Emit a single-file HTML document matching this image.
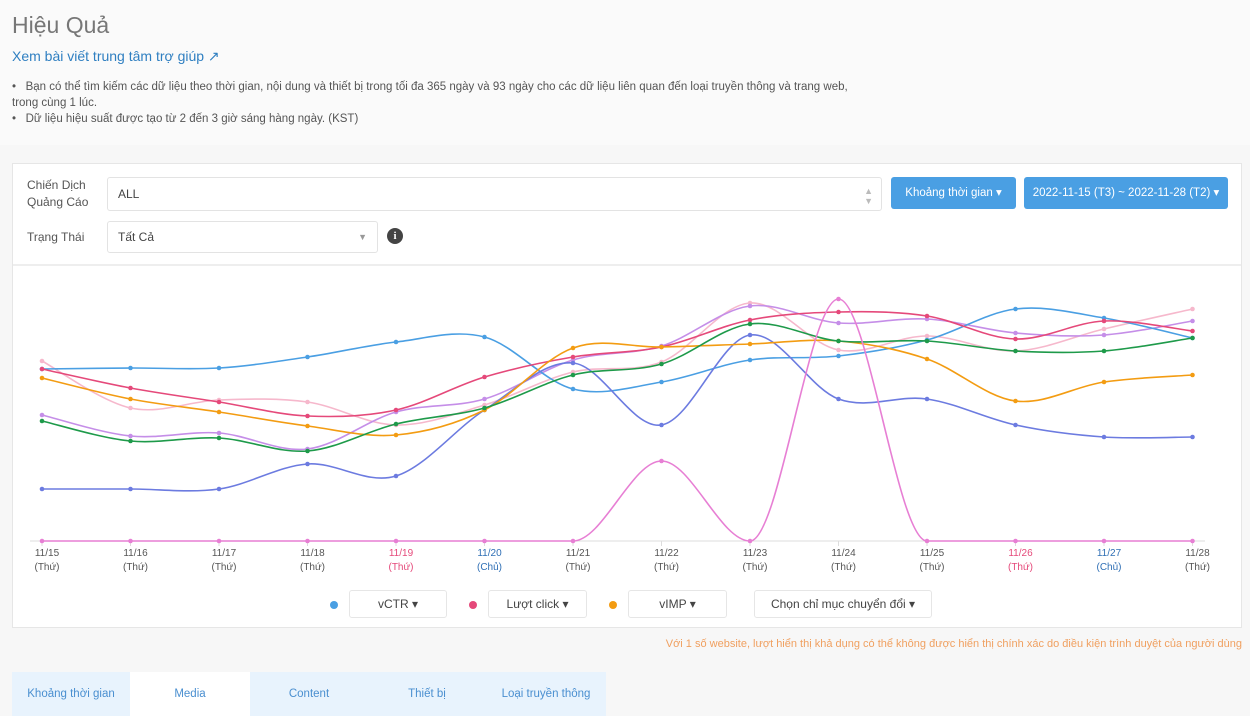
<!DOCTYPE html>
<html><head><meta charset="utf-8"><style>
*{box-sizing:border-box;margin:0;padding:0}
body{width:1250px;height:716px;overflow:hidden;background:#f7f7f7;font-family:"Liberation Sans",sans-serif;color:#555;position:relative}
.top{position:absolute;left:0;top:0;width:1250px;height:145px;background:#fafafa}
h1{position:absolute;left:12px;top:12px;font-size:23px;font-weight:normal;color:#777}
.link{position:absolute;left:12px;top:48px;font-size:14px;color:#2f7fc1}
.note{position:absolute;left:12px;top:79px;font-size:11.5px;color:#555;line-height:16px}
.card{position:absolute;left:12px;top:163px;width:1230px;height:465px;background:#fff;border:1px solid #e6e6e6}
.lbl{position:absolute;font-size:12px;color:#555;line-height:17px}
.inp{position:absolute;border:1px solid #e3e3e3;border-radius:3px;background:#fff;font-size:12px;color:#444;padding-left:10px}
.btn{position:absolute;background:#4a9fe3;color:#fff;font-size:11.5px;border-radius:3px;text-align:center;line-height:32px}
.sep{position:absolute;left:0;top:100px;width:1228px;height:2px;background:#eee}
.xl{position:absolute;top:547px;width:40px;margin-left:-20px;text-align:center;font-size:10px;line-height:14px;color:#555}
.dot{position:absolute;width:8px;height:8px;border-radius:50%;top:601px}
.lb{position:absolute;top:590px;height:28px;border:1px solid #e6e6e6;border-radius:3px;background:#fff;font-size:12px;text-align:center;line-height:26px;color:#444}
.tab{position:absolute;top:672px;height:44px;line-height:44px;text-align:center;font-size:11.5px;color:#4a8fd0;background:#e8f3fd}
</style></head><body>
<div class="top"></div>
<h1>Hiệu Quả</h1>
<div class="link">Xem bài viết trung tâm trợ giúp &#x2197;</div>
<div class="note">•&nbsp;&nbsp;&nbsp;Bạn có thể tìm kiếm các dữ liệu theo thời gian, nội dung và thiết bị trong tối đa 365 ngày và 93 ngày cho các dữ liệu liên quan đến loại truyền thông và trang web,<br>trong cùng 1 lúc.<br>•&nbsp;&nbsp;&nbsp;Dữ liệu hiệu suất được tạo từ 2 đến 3 giờ sáng hàng ngày. (KST)</div>
<div class="card">
<div class="lbl" style="left:14px;top:13px">Chiến Dịch<br>Quảng Cáo</div>
<div class="inp" style="left:94px;top:13px;width:775px;height:34px;line-height:32px">ALL<span style="position:absolute;right:8px;color:#bbb;font-size:9px;line-height:10px;top:8px">▲<br>▼</span></div>
<div class="lbl" style="left:14px;top:65px">Trạng Thái</div>
<div class="inp" style="left:94px;top:57px;width:271px;height:32px;line-height:30px">Tất Cả<span style="position:absolute;right:10px;color:#999;font-size:9px">▼</span></div>
<div style="position:absolute;left:374px;top:64px;width:16px;height:16px;border-radius:50%;background:#444;color:#fff;font-size:11px;font-weight:bold;text-align:center;line-height:16px;font-family:'Liberation Serif',serif">i</div>
<div class="btn" style="left:878px;top:13px;width:125px">Khoảng thời gian ▾</div>
<div class="btn" style="left:1011px;top:13px;width:204px">2022-11-15 (T3) ~ 2022-11-28 (T2) ▾</div>
<div class="sep"></div>
</div>
<svg id="ch" width="1250" height="716" style="position:absolute;left:0;top:0"></svg>
<div id="xl"></div>
<div class="dot" style="left:330px;background:#4a9fe3"></div>
<div class="lb" style="left:349px;width:98px">vCTR ▾</div>
<div class="dot" style="left:469px;background:#e5497a"></div>
<div class="lb" style="left:488px;width:99px">Lượt click ▾</div>
<div class="dot" style="left:609px;background:#f39c12"></div>
<div class="lb" style="left:628px;width:99px">vIMP ▾</div>
<div class="lb" style="left:754px;width:178px">Chọn chỉ mục chuyển đổi ▾</div>
<div style="position:absolute;right:8px;top:638px;font-size:11px;color:#f0a060">Với 1 số website, lượt hiển thị khả dụng có thể không được hiển thị chính xác do điều kiện trình duyệt của người dùng</div>
<div class="tab" style="left:12px;width:118px">Khoảng thời gian</div>
<div class="tab" style="left:130px;width:120px;background:#fff">Media</div>
<div class="tab" style="left:250px;width:118px">Content</div>
<div class="tab" style="left:368px;width:118px">Thiết bị</div>
<div class="tab" style="left:486px;width:120px">Loại truyền thông</div>
<script>
var X=[],i;for(i=0;i<14;i++)X.push(42+88.5*i);
var S=[
["#f6b8cc",[361,408,400,402,425,405,372,362,303,350,336,351,329,309]],
["#c58ee8",[415,436,433,449,412,399,360,346,306,323,319,333,335,321]],
["#4a9fe3",[369,368,368,357,342,337,389,382,360,356,340,309,318,338]],
["#6c7be0",[489,489,489,464,476,410,363,425,335,399,399,425,437,437]],
["#e5497a",[369,388,402,416,410,377,357,347,320,312,316,339,321,331]],
["#f39c12",[378,399,412,426,435,410,348,347,344,341,359,401,382,375]],
["#1e9a4a",[421,441,438,451,424,408,375,364,324,341,341,351,351,338]],
["#e77fd4",[541,541,541,541,541,541,541,461,541,299,541,541,541,541],1]];
var h='<line x1="30" y1="541" x2="1205" y2="541" stroke="#ddd"/>';
for(i=0;i<14;i++)h+='<line x1="'+X[i]+'" y1="541" x2="'+X[i]+'" y2="546" stroke="#ddd"/>';
S.forEach(function(s){var Y=s[1],d='M'+X[0]+','+Y[0],n=14,m=[];
if(s[2]){for(var k=0;k<n;k++){if(k==0||k==n-1){m.push(0);continue;}var a=Y[k]-Y[k-1],b=Y[k+1]-Y[k];m.push(a*b<=0?0:(a+b)/2/88.5);}}
for(var k=0;k<13;k++){var c1x,c1y,c2x,c2y;
if(s[2]){c1x=X[k]+29.5;c1y=Y[k]+m[k]*29.5;c2x=X[k+1]-29.5;c2y=Y[k+1]-m[k+1]*29.5;}
else{var p0=k?k-1:k,p3=k<12?k+2:k+1;
c1x=X[k]+(X[k+1]-X[p0])/6;c1y=Y[k]+(Y[k+1]-Y[p0])/6;c2x=X[k+1]-(X[p3]-X[k])/6;c2y=Y[k+1]-(Y[p3]-Y[k])/6;}
d+=' C'+c1x+','+c1y+' '+c2x+','+c2y+' '+X[k+1]+','+Y[k+1];}
h+='<path d="'+d+'" fill="none" stroke="'+s[0]+'" stroke-width="1.6"/>';
for(var k=0;k<14;k++)h+='<circle cx="'+X[k]+'" cy="'+Y[k]+'" r="2.3" fill="'+s[0]+'"/>';});
document.getElementById('ch').innerHTML=h;
var L='';for(i=0;i<14;i++){var d=15+i,c=(d==19||d==26)?'#e5497a':(d==20||d==27)?'#2f6fb5':'#555',w=(d==20||d==27)?'Chủ':'Thứ';
L+='<div class="xl" style="left:'+(X[i]+5)+'px;color:'+c+'">11/'+d+'<br>('+w+')</div>';}
document.getElementById('xl').innerHTML=L;
</script>
</body></html>
